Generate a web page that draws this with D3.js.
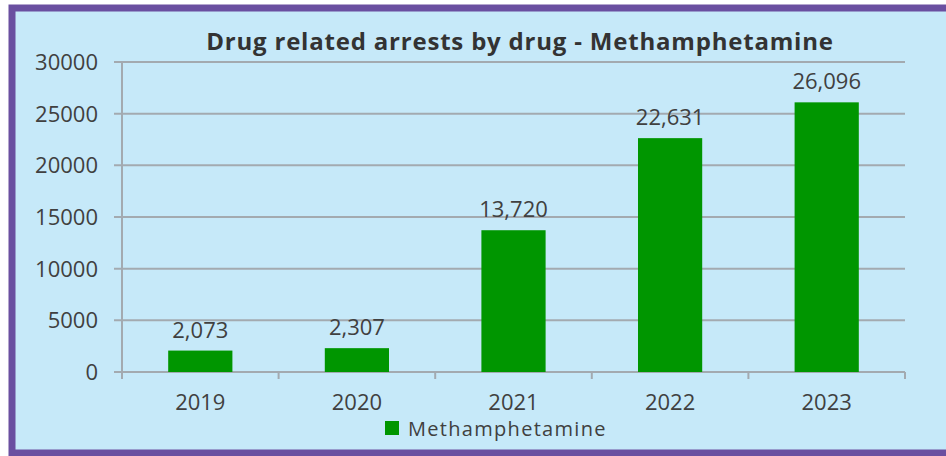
<!DOCTYPE html>
<html>
<head>
<meta charset="utf-8">
<script src="https://cdn.jsdelivr.net/npm/d3@7"></script>
<style>
  html, body { margin: 0; padding: 0; background: #fff; }
  svg { display: block; }
</style>
</head>
<body>
<div id="chart"></div>
<script>
// Data
const years = ["2019", "2020", "2021", "2022", "2023"];
const arrests = [2073, 2307, 13720, 22631, 26096];
const yTicks = [0, 5000, 10000, 15000, 20000, 25000, 30000];
const seriesName = "Methamphetamine";
const title = "Drug related arrests by drug - Methamphetamine";

const width = 946;
const height = 456;
const font = "'Open Sans', 'Liberation Sans', sans-serif";
const textColor = "#404040";
const barColor = "#009600";

const svg = d3.select("#chart")
    .append("svg")
    .attr("width", width)
    .attr("height", height);

// Panel with purple frame
svg.append("rect")
    .attr("x", 12)
    .attr("y", 8)
    .attr("width", width + 20)
    .attr("height", height - 11)
    .attr("fill", "#c6e9f9")
    .attr("stroke", "#6a4fa0")
    .attr("stroke-width", 7);

const plot = { left: 122, right: 905, top: 62, bottom: 372 };

const x = d3.scaleBand()
    .domain(years)
    .range([plot.left, plot.right])
    .paddingInner(0.59)
    .paddingOuter(0.295);

const y = d3.scaleLinear()
    .domain([0, 30000])
    .range([plot.bottom, plot.top]);

// Horizontal gridlines
svg.append("g")
    .selectAll("line")
    .data(yTicks)
    .join("line")
    .attr("x1", plot.left - 8)
    .attr("x2", plot.right)
    .attr("y1", d => y(d))
    .attr("y2", d => y(d))
    .attr("stroke", "#a3aab0")
    .attr("stroke-width", 2);

// Y axis labels
svg.append("g")
    .selectAll("text")
    .data(yTicks)
    .join("text")
    .attr("x", 98)
    .attr("y", d => y(d))
    .attr("dy", "0.36em")
    .attr("text-anchor", "end")
    .attr("font-family", font)
    .attr("font-size", 22)
    .attr("fill", textColor)
    .text(d => d);

// Y axis line
svg.append("line")
    .attr("x1", plot.left)
    .attr("x2", plot.left)
    .attr("y1", plot.top)
    .attr("y2", plot.bottom + 7)
    .attr("stroke", "#a3aab0")
    .attr("stroke-width", 2);

// Category separator ticks on the x axis
const step = x.step();
const boundaries = d3.range(1, years.length + 1).map(i => plot.left + i * step);
svg.append("g")
    .selectAll("line")
    .data(boundaries)
    .join("line")
    .attr("x1", d => d)
    .attr("x2", d => d)
    .attr("y1", plot.bottom)
    .attr("y2", plot.bottom + 7)
    .attr("stroke", "#a3aab0")
    .attr("stroke-width", 2);

// Bars
svg.append("g")
    .selectAll("rect")
    .data(arrests)
    .join("rect")
    .attr("x", (d, i) => x(years[i]))
    .attr("y", d => y(d))
    .attr("width", x.bandwidth())
    .attr("height", d => plot.bottom - y(d))
    .attr("fill", barColor);

// Value labels
const fmt = d3.format(",");
svg.append("g")
    .selectAll("text")
    .data(arrests)
    .join("text")
    .attr("x", (d, i) => x(years[i]) + x.bandwidth() / 2)
    .attr("y", d => y(d) - 13)
    .attr("text-anchor", "middle")
    .attr("font-family", font)
    .attr("font-size", 22)
    .attr("fill", textColor)
    .text(d => fmt(d));

// X axis labels
svg.append("g")
    .selectAll("text")
    .data(years)
    .join("text")
    .attr("x", d => x(d) + x.bandwidth() / 2)
    .attr("y", 410)
    .attr("text-anchor", "middle")
    .attr("font-family", font)
    .attr("font-size", 22)
    .attr("fill", textColor)
    .text(d => d);

// Title
svg.append("text")
    .attr("x", 520)
    .attr("y", 50)
    .attr("text-anchor", "middle")
    .attr("font-family", font)
    .attr("font-weight", "bold")
    .attr("font-size", 24)
    .attr("letter-spacing", 0.8)
    .attr("fill", "#333")
    .text(title);

// Legend
svg.append("rect")
    .attr("x", 385)
    .attr("y", 421)
    .attr("width", 14)
    .attr("height", 14)
    .attr("fill", barColor);

svg.append("text")
    .attr("x", 408)
    .attr("y", 436)
    .attr("font-family", font)
    .attr("font-size", 20)
    .attr("letter-spacing", 1.3)
    .attr("fill", textColor)
    .text(seriesName);
</script>
</body>
</html>
